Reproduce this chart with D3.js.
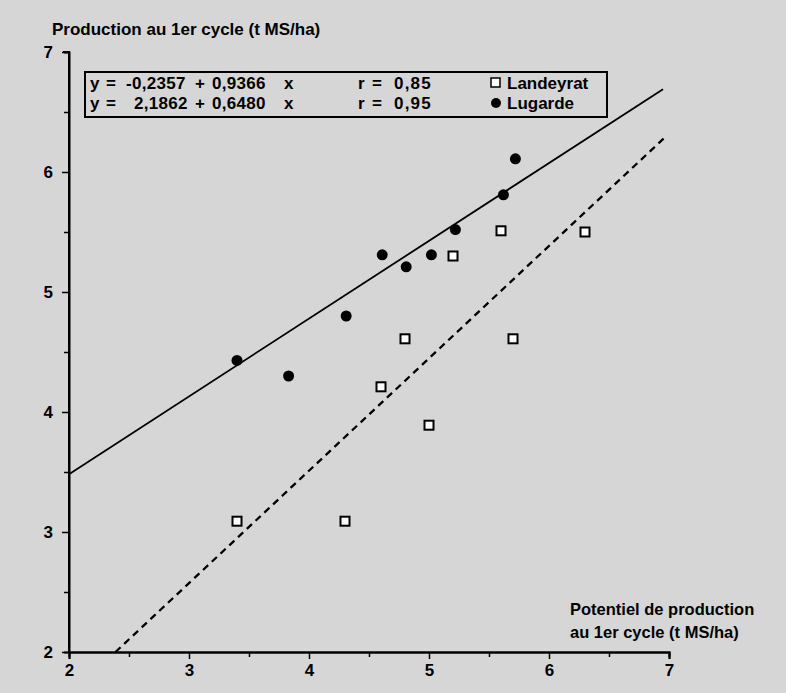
<!DOCTYPE html>
<html lang="fr">
<head>
<meta charset="utf-8">
<title>Production au 1er cycle</title>
<style>
  body { margin: 0; background: #d6d6d6; }
  svg { display: block; font-family: "Liberation Sans", Arial, sans-serif; font-weight: bold; }
</style>
</head>
<body>
<svg id="chart" width="786" height="693"></svg>
<script src="https://d3js.org/d3.v7.min.js"></script>
<script>
// Landeyrat (open squares)
const landeyratX = [3.4, 4.3, 4.6, 4.8, 5.0, 5.2, 5.6, 5.7, 6.3]
const landeyratY = [3.09, 3.09, 4.21, 4.61, 3.89, 5.3, 5.51, 4.61, 5.5]
// Lugarde (filled circles)
const lugardeX = [3.4, 3.83, 4.31, 4.61, 4.81, 5.02, 5.22, 5.62, 5.72]
const lugardeY = [4.43, 4.3, 4.8, 5.31, 5.21, 5.31, 5.52, 5.81, 6.11]

// regressions: intercept, slope
const landeyratFit = [-0.2357, 0.9366]
const lugardeFit = [2.1862, 0.6480]

const xTicks = [2, 3, 4, 5, 6, 7]
const yTicks = [2, 3, 4, 5, 6, 7]
const minorTicks = [2.5, 3.5, 4.5, 5.5, 6.5]

const eqParts = [
    ["y", "=", "-0,2357", "+", "0,9366", "x"],
    ["y", "=", "2,1862", "+", "0,6480", "x"]
]
const rParts = [["r", "=", "0,85"], ["r", "=", "0,95"]]
const seriesNames = ["Landeyrat", "Lugarde"]

let svg = d3.select("#chart")

let x = d3.scaleLinear().domain([2, 7]).range([69, 669])
let y = d3.scaleLinear().domain([2, 7]).range([652, 52])

// axes
let xAxis = d3.axisBottom(x).tickValues(xTicks).tickSize(7).tickPadding(5).tickFormat(d3.format("d"))
let xg = svg.append("g").attr("transform", "translate(0,652)").call(xAxis)
let yAxis = d3.axisLeft(y).tickValues(yTicks).tickSize(7).tickPadding(9).tickFormat(d3.format("d"))
let yg = svg.append("g").attr("transform", "translate(69,0)").call(yAxis)

let xMinor = svg.append("g").attr("transform", "translate(0,652)")
    .call(d3.axisBottom(x).tickValues(minorTicks).tickSize(5).tickFormat(""))
let yMinor = svg.append("g").attr("transform", "translate(69,0)")
    .call(d3.axisLeft(y).tickValues(minorTicks).tickSize(5).tickFormat(""))

for (let g of [xg, yg, xMinor, yMinor]) {
    g.select(".domain").attr("stroke", "#000").attr("stroke-width", 2)
    g.selectAll(".tick line").attr("stroke", "#000").attr("stroke-width", 1.5)
    g.selectAll(".tick text")
        .attr("fill", "#000")
        .style("font-size", "17px")
        .style("font-weight", "bold")
}
yg.select(".domain").attr("d", "M0,652V52H-6")

// regression lines
let fitLine = (fit, x0, x1) => [[x0, fit[0] + fit[1] * x0], [x1, fit[0] + fit[1] * x1]]
let line = d3.line().x(d => x(d[0])).y(d => y(d[1]))

svg.append("path")
    .attr("d", line(fitLine(lugardeFit, 2, 6.95)))
    .attr("stroke", "#000").attr("stroke-width", 1.8).attr("fill", "none")

let xStart = (2 - landeyratFit[0]) / landeyratFit[1]
svg.append("path")
    .attr("d", line(fitLine(landeyratFit, xStart, 6.97)))
    .attr("stroke", "#000").attr("stroke-width", 2.3).attr("fill", "none")
    .attr("stroke-dasharray", "7,5")

// points
svg.append("g").selectAll("rect")
    .data(d3.zip(landeyratX, landeyratY))
    .enter().append("rect")
    .attr("x", d => x(d[0]) - 4.5)
    .attr("y", d => y(d[1]) - 4.5)
    .attr("width", 9).attr("height", 9)
    .attr("fill", "#fff").attr("stroke", "#000").attr("stroke-width", 2)

svg.append("g").selectAll("circle")
    .data(d3.zip(lugardeX, lugardeY))
    .enter().append("circle")
    .attr("cx", d => x(d[0]))
    .attr("cy", d => y(d[1]))
    .attr("r", 5.5)
    .attr("fill", "#000")

// legend box
svg.append("rect")
    .attr("x", 85).attr("y", 72).attr("width", 522).attr("height", 45)
    .attr("fill", "none").attr("stroke", "#000").attr("stroke-width", 2)

let eqX = [90, 106, 126, 195, 212, 284]
let rX = [358, 372, 394]
let rows = svg.append("g").selectAll("g")
    .data(eqParts)
    .enter().append("g")
    .attr("transform", (d, i) => `translate(0,${89 + i * 20})`)
    .style("font-size", "17px")

rows.selectAll("text.eq")
    .data((d, i) => d.map((t, j) => ({ t: t, x: i == 1 && j == 2 ? 134 : eqX[j] })))
    .enter().append("text")
    .attr("class", "eq")
    .attr("x", d => d.x)
    .style("letter-spacing", d => /\d/.test(d.t) ? "0.3px" : "0px")
    .text(d => d.t)
rows.selectAll("text.r")
    .data((d, i) => rParts[i].map((t, j) => ({ t: t, x: rX[j] })))
    .enter().append("text")
    .attr("class", "r")
    .attr("x", d => d.x)
    .style("letter-spacing", d => /\d/.test(d.t) ? "1.2px" : "0px")
    .text(d => d.t)
rows.append("text").attr("x", 507).text((d, i) => seriesNames[i])
rows.filter((d, i) => i == 0).append("rect")
    .attr("x", 491).attr("y", -11).attr("width", 9).attr("height", 9)
    .attr("fill", "#fff").attr("stroke", "#000").attr("stroke-width", 1.5)
rows.filter((d, i) => i == 1).append("circle")
    .attr("cx", 496).attr("cy", -6).attr("r", 5)
    .attr("fill", "#000")

// axis titles
svg.append("text").attr("x", 52).attr("y", 35)
    .style("font-size", "17px")
    .text("Production au 1er cycle (t MS/ha)")

svg.append("text").attr("x", 570).attr("y", 615)
    .style("font-size", "16.5px")
    .text("Potentiel de production")
svg.append("text").attr("x", 570).attr("y", 638)
    .style("font-size", "16.5px")
    .text("au 1er cycle (t MS/ha)")
</script>
</body>
</html>
